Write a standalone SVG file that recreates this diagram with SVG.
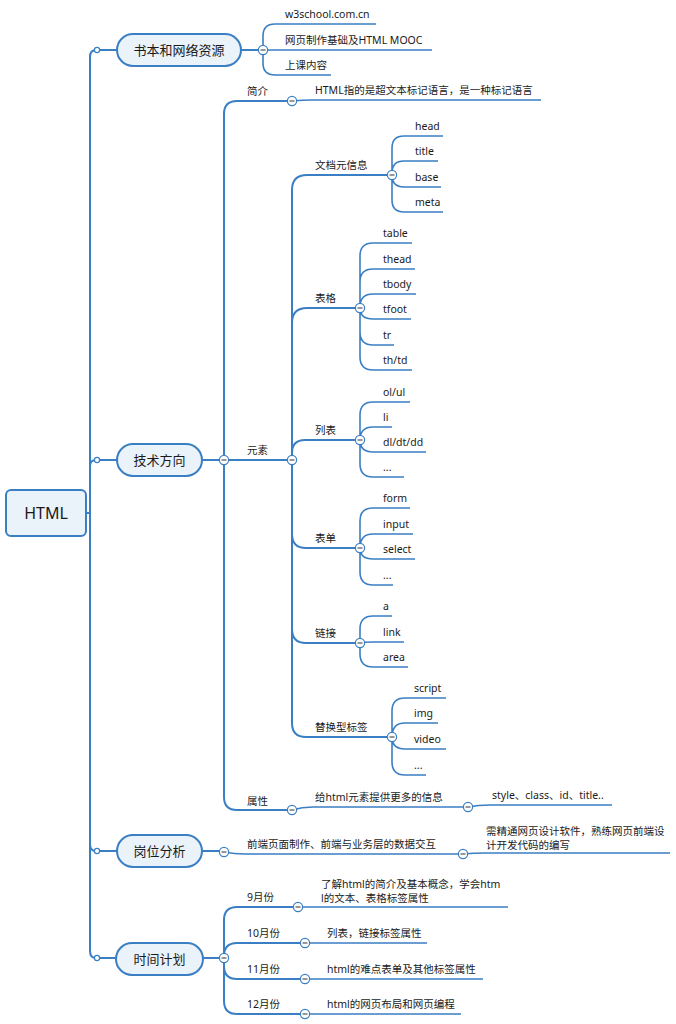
<svg xmlns="http://www.w3.org/2000/svg" width="676" height="1024" viewBox="0 0 676 1024">
<style>
.ln{fill:none;stroke:#3A7FC3;stroke-width:2;stroke-linecap:round}
.th{fill:none;stroke:#3A7FC3;stroke-width:1.6}
.node{fill:#EAF2FA;stroke:#3A7FC3;stroke-width:2}
.t{font-family:"Noto Sans","Noto Sans CJK SC",sans-serif;font-size:10.5px;fill:#1a1a1a}
.tm{font-family:"Noto Sans","Noto Sans CJK SC",sans-serif;font-size:13px;fill:#1a1a1a;text-anchor:middle}
.tr{font-family:"Noto Sans","Noto Sans CJK SC",sans-serif;font-size:16px;fill:#1a1a1a;text-anchor:middle}
.c{fill:#fff;stroke:#3A7FC3;stroke-width:1.2}
.m{stroke:#444;stroke-width:1.1}
.s{fill:#fff;stroke:#3A7FC3;stroke-width:1.2}
</style>
<defs>
<g id="col"><circle class="c" r="4.6"/><line class="m" x1="-2.5" y1="0" x2="2.5" y2="0"/></g>
</defs>
<g id="connectors">
<path class="ln" d="M86,513 H90 M90,513 V57 Q90,50 96,50 H117 M90,513 V466 Q90,460 96,460 H117 M90,513 V844 Q90,851 96,851 H117 M90,513 V951 Q90,958 96,958 H116"/>
<path class="ln" d="M241,50 H263"/>
<path class="th" d="M263,50 V36 Q263,24 275,24 H376 M263,50 H432 M263,50 V63 Q263,75 275,75 H331"/>
<path class="ln" d="M202,460 H224"/>
<path class="ln" d="M224,460 V114 Q224,101 237,101 H292 M224,460 H292 M224,460 V797 Q224,810 237,810 H292"/>
<path class="th" d="M292,101 Q302,100 313,100 H541"/>
<path class="th" d="M292,810 Q302,807 313,807 H468 M468,807 Q478,805 490,805 H612"/>
<path class="ln" d="M292,460 V190 Q292,175 307,175 H392 M292,460 V323 Q292,308 307,308 H360 M292,460 V453 Q292,440 305,440 H360 M292,460 V534 Q292,548 306,548 H360 M292,460 V629 Q292,643 306,643 H360 M292,460 V723 Q292,737 306,737 H392"/>
<path class="th" d="M392,175 V148 Q392,136 404,136 H443 M392,175 V173 Q392,161 404,161 H438 M392,175 Q392,187 404,187 H441 M392,175 V200 Q392,212 404,212 H443"/>
<path class="th" d="M360,308 V256 Q360,243 373,243 H412 M360,308 V282 Q360,269 373,269 H415 M360,308 V307 Q360,294 373,294 H416 M360,308 Q360,319 373,319 H411 M360,308 V332 Q360,345 373,345 H394 M360,308 V357 Q360,370 373,370 H412"/>
<path class="th" d="M360,440 V415 Q360,402 373,402 H410 M360,440 Q360,427 373,427 H392 M360,440 Q360,452 373,452 H426 M360,440 V464 Q360,477 373,477 H404"/>
<path class="th" d="M360,548 V521 Q360,508 373,508 H410 M360,548 Q360,534 373,534 H413 M360,548 Q360,559 373,559 H415 M360,548 V572 Q360,585 373,585 H393"/>
<path class="th" d="M360,643 V629 Q360,616 373,616 H392 M360,643 Q362,642 373,642 H404 M360,643 V654 Q360,667 373,667 H408"/>
<path class="th" d="M392,737 V711 Q392,698 405,698 H446 M392,737 Q392,723 405,723 H438 M392,737 Q392,749 405,749 H446 M392,737 V762 Q392,775 405,775 H426"/>
<path class="ln" d="M202,851 H224"/>
<path class="th" d="M224,852 Q234,854 245,854 H463 M463,854 Q473,853 485,853 H670"/>
<path class="ln" d="M203,958 H224"/>
<path class="ln" d="M224,958 V920 Q224,907 237,907 H298 M224,958 V956 Q224,943 237,943 H305 M224,958 V966 Q224,979 237,979 H305 M224,958 V1001 Q224,1014 237,1014 H305"/>
<path class="th" d="M298,907 H508 M305,943 H427 M305,979 H483 M305,1014 H461"/>
</g>
<g id="root"><rect class="node" x="6" y="490" width="80" height="46" rx="5"/><text class="tr" x="46" y="518.5">HTML</text></g>
<g id="n-books"><circle class="s" cx="97" cy="50" r="2.6"/><rect class="node" x="117" y="34" width="124" height="32" rx="16"/><text class="tm" x="179" y="54.5">书本和网络资源</text><use href="#col" x="263" y="50"/></g>
<g id="n-books-kids"><text class="t" x="285" y="18">w3school.com.cn</text><text class="t" x="285" y="44">网页制作基础及HTML MOOC</text><text class="t" x="285" y="69">上课内容</text></g>
<g id="n-tech"><circle class="s" cx="97" cy="460" r="2.6"/><rect class="node" x="117" y="444" width="85" height="32" rx="16"/><text class="tm" x="159.5" y="464.5">技术方向</text><use href="#col" x="224" y="460"/></g>
<g id="n-intro"><text class="t" x="247" y="95">简介</text><use href="#col" x="292" y="101"/><text class="t" x="315" y="94">HTML指的是超文本标记语言，是一种标记语言</text></g>
<g id="n-elem"><text class="t" x="247" y="454">元素</text><use href="#col" x="292" y="460"/></g>
<g id="n-meta"><text class="t" x="315" y="169">文档元信息</text><use href="#col" x="392" y="175"/><text class="t" x="415" y="130">head</text><text class="t" x="415" y="155">title</text><text class="t" x="415" y="181">base</text><text class="t" x="415" y="206">meta</text></g>
<g id="n-table"><text class="t" x="315" y="302">表格</text><use href="#col" x="360" y="308"/><text class="t" x="383" y="237">table</text><text class="t" x="383" y="263">thead</text><text class="t" x="383" y="288">tbody</text><text class="t" x="383" y="313">tfoot</text><text class="t" x="383" y="339">tr</text><text class="t" x="383" y="364">th/td</text></g>
<g id="n-list"><text class="t" x="315" y="434">列表</text><use href="#col" x="360" y="440"/><text class="t" x="383" y="396">ol/ul</text><text class="t" x="383" y="421">li</text><text class="t" x="383" y="446">dl/dt/dd</text><text class="t" x="383" y="471">...</text></g>
<g id="n-form"><text class="t" x="315" y="542">表单</text><use href="#col" x="360" y="548"/><text class="t" x="383" y="502">form</text><text class="t" x="383" y="528">input</text><text class="t" x="383" y="553">select</text><text class="t" x="383" y="579">...</text></g>
<g id="n-link"><text class="t" x="315" y="637">链接</text><use href="#col" x="360" y="643"/><text class="t" x="383" y="610">a</text><text class="t" x="383" y="636">link</text><text class="t" x="383" y="661">area</text></g>
<g id="n-replace"><text class="t" x="315" y="731">替换型标签</text><use href="#col" x="392" y="737"/><text class="t" x="414" y="692">script</text><text class="t" x="414" y="717">img</text><text class="t" x="414" y="743">video</text><text class="t" x="414" y="769">...</text></g>
<g id="n-attr"><text class="t" x="247" y="805">属性</text><use href="#col" x="292" y="810"/><text class="t" x="315" y="801">给html元素提供更多的信息</text><use href="#col" x="468" y="807"/><text class="t" x="492" y="799">style、class、id、title..</text></g>
<g id="n-job"><circle class="s" cx="97" cy="851" r="2.6"/><rect class="node" x="117" y="835" width="85" height="32" rx="16"/><text class="tm" x="159.5" y="855.5">岗位分析</text><use href="#col" x="224" y="852"/><text class="t" x="247" y="848">前端页面制作、前端与业务层的数据交互</text><use href="#col" x="463" y="854"/><text class="t" x="486" y="835">需精通网页设计软件，熟练网页前端设</text><text class="t" x="486" y="849">计开发代码的编写</text></g>
<g id="n-plan"><circle class="s" cx="97" cy="958" r="2.6"/><rect class="node" x="116" y="943" width="87" height="32" rx="16"/><text class="tm" x="159.5" y="963.5">时间计划</text><use href="#col" x="224" y="958"/></g>
<g id="n-sep"><text class="t" x="247" y="901">9月份</text><use href="#col" x="298" y="907"/><text class="t" x="321" y="888">了解html的简介及基本概念，学会htm</text><text class="t" x="321" y="902">l的文本、表格标签属性</text></g>
<g id="n-oct"><text class="t" x="247" y="937">10月份</text><use href="#col" x="305" y="943"/><text class="t" x="327" y="937">列表，链接标签属性</text></g>
<g id="n-nov"><text class="t" x="247" y="973">11月份</text><use href="#col" x="305" y="979"/><text class="t" x="327" y="973">html的难点表单及其他标签属性</text></g>
<g id="n-dec"><text class="t" x="247" y="1008">12月份</text><use href="#col" x="305" y="1014"/><text class="t" x="327" y="1008">html的网页布局和网页编程</text></g>
</svg>
